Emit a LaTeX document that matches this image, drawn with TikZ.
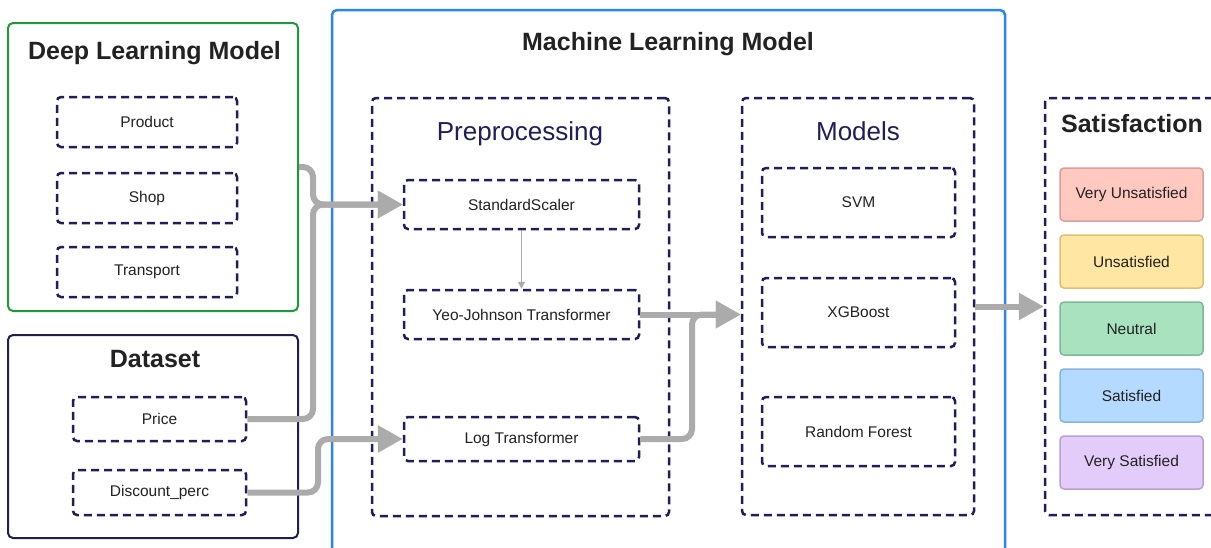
\documentclass[tikz,border=0pt]{standalone}
\usepackage{fontspec}
\setmainfont{Liberation Sans}
\usetikzlibrary{arrows.meta}
\definecolor{navy}{HTML}{1F1D5A}
\definecolor{dlgreen}{HTML}{1E9A3C}
\definecolor{mlblue}{HTML}{2A85EE}
\definecolor{flowgray}{HTML}{ABABAB}
\definecolor{txt}{HTML}{222222}
\begin{document}
\begin{tikzpicture}[x=1pt, y=-1pt,
  dbox/.style={rectangle, draw=navy, line width=2.5pt, dash pattern=on 8pt off 5pt, rounded corners=4pt, text=txt, font=\fontsize{15.5}{18}\selectfont},
  grp/.style={rectangle, line width=2pt, rounded corners=5pt},
  ttl/.style={anchor=base, text=txt, font=\fontsize{25}{30}\selectfont\bfseries},
  sub/.style={anchor=base, text=navy, font=\fontsize{26}{30}\selectfont},
  lvl/.style={rectangle, rounded corners=4pt, line width=1.5pt, minimum width=143pt, minimum height=53pt, text=txt, font=\fontsize{15.5}{18}\selectfont},
  flow/.style={draw=flowgray, line width=6pt, rounded corners=10pt, -{Triangle[length=25pt,width=26pt]}}]
\useasboundingbox (0,0) rectangle (1211,547);
\clip (0,0) rectangle (1211,547);
\fill[white] (0,0) rectangle (1211,547);
% deep learning model
\node[grp, draw=dlgreen, minimum width=290pt, minimum height=288pt] (dl) at (153,167) {};
\node[ttl] (dlt) at (154.5,59) {Deep Learning Model};
\node[dbox, minimum width=180pt, minimum height=50pt] (prod) at (147,122) {Product};
\node[dbox, minimum width=180pt, minimum height=50pt] (shop) at (147,198) {Shop};
\node[dbox, minimum width=180pt, minimum height=50pt] (trans) at (147,272) {Transport};
% dataset
\node[grp, draw=navy, minimum width=290pt, minimum height=203pt] (ds) at (153,436.5) {};
\node[ttl] (dst) at (155,367) {Dataset};
\node[dbox, minimum width=173pt, minimum height=44pt] (price) at (159.5,419) {Price};
\node[dbox, minimum width=173pt, minimum height=45pt] (disc) at (159.5,492.5) {Discount\_perc};
% machine learning model
\node[grp, draw=mlblue, line width=2.5pt, minimum width=673pt, minimum height=560pt] (ml) at (668.5,290) {};
\node[ttl] (mlt) at (668,50) {Machine Learning Model};
\node[dbox, minimum width=297pt, minimum height=418pt] (pre) at (520.5,307) {};
\node[sub] (pret) at (520,140) {Preprocessing};
\node[dbox, minimum width=235pt, minimum height=49pt] (ss) at (521.5,204.5) {StandardScaler};
\node[dbox, minimum width=235pt, minimum height=49pt] (yj) at (521.5,314.5) {Yeo-Johnson Transformer};
\node[dbox, minimum width=235pt, minimum height=44pt] (lt) at (521.5,439) {Log Transformer};
\node[dbox, minimum width=232pt, minimum height=417pt] (mdl) at (858,306.5) {};
\node[sub] (mdlt) at (858,140) {Models};
\node[dbox, minimum width=193pt, minimum height=69pt] (svm) at (858.5,202.5) {SVM};
\node[dbox, minimum width=193pt, minimum height=69pt] (xgb) at (858.5,312.5) {XGBoost};
\node[dbox, minimum width=193pt, minimum height=69pt] (rf) at (858.5,431.5) {Random Forest};
% satisfaction
\node[dbox, minimum width=185pt, minimum height=417pt] (sat) at (1137.5,306.5) {};
\node[ttl] (satt) at (1132,132) {Satisfaction};
\node[lvl, fill={rgb,255:red,255;green,201;blue,192}, draw={rgb,255:red,217;green,160;blue,154}] (vu) at (1131.5,194.5) {Very Unsatisfied};
\node[lvl, fill={rgb,255:red,255;green,230;blue,163}, draw={rgb,255:red,224;green,192;blue,112}] (un) at (1131.5,261.5) {Unsatisfied};
\node[lvl, fill={rgb,255:red,168;green,226;blue,190}, draw={rgb,255:red,125;green,186;blue,149}] (ne) at (1131.5,328.5) {Neutral};
\node[lvl, fill={rgb,255:red,181;green,218;blue,255}, draw={rgb,255:red,138;green,181;blue,218}] (sa) at (1131.5,395.5) {Satisfied};
\node[lvl, fill={rgb,255:red,228;green,204;blue,250}, draw={rgb,255:red,187;green,160;blue,213}] (vs) at (1131.5,462.5) {Very Satisfied};
% connectors
\coordinate (j1) at (313,204.5);
\coordinate (j2) at (318,439);
\coordinate (j3) at (692,314.5);
\draw[flow] (dl.east) -| (j1) -- (ss.west);
\draw[flow] (price.east) -| (j1) -- (ss.west);
\draw[flow] (disc.east) -| (j2) -- (lt.west);
\draw[flow] (yj.east) -- (mdl.west |- yj.east);
\draw[flow] (lt.east) -| (j3) -- (mdl.west |- yj.east);
\draw[flow] (mdl.east) -- (sat.west);
\draw[draw=flowgray, line width=1.2pt, -{Triangle[length=7pt,width=7pt]}] (ss.south) -- (yj.north);
\end{tikzpicture}
\end{document}
